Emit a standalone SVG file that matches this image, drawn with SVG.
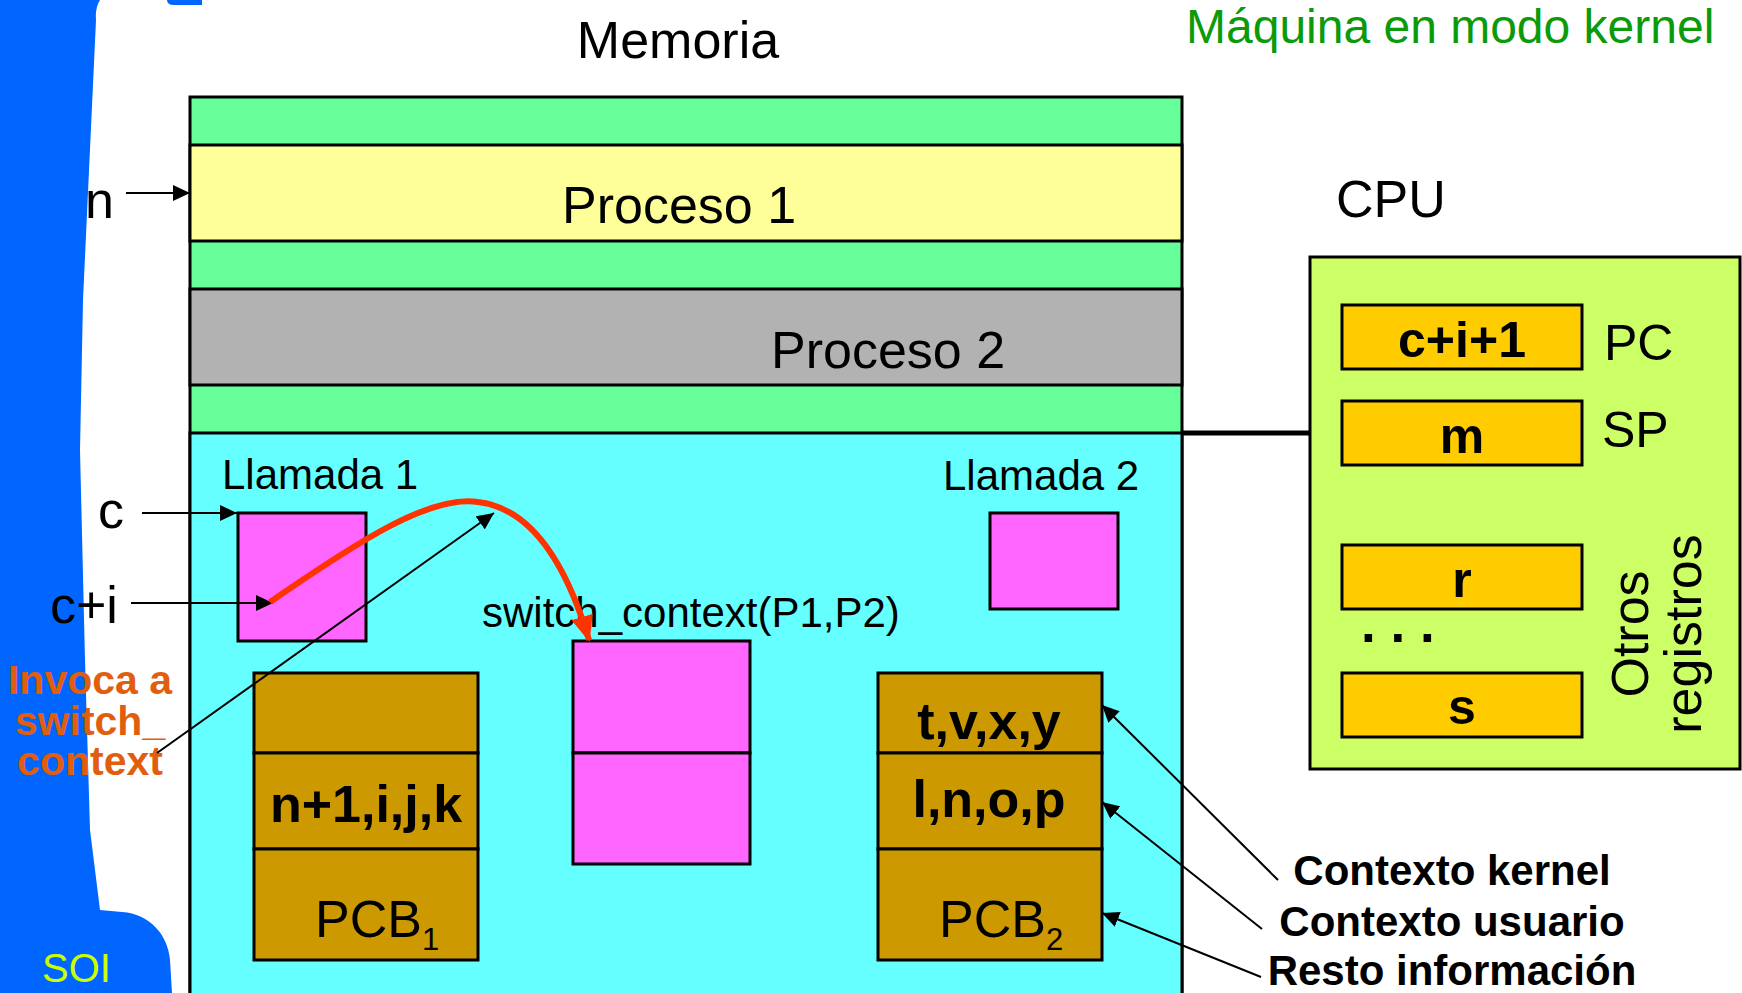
<svg xmlns="http://www.w3.org/2000/svg" width="1742" height="993" viewBox="0 0 1742 993">
  <style>
    text { font-family: "Liberation Sans", Arial, sans-serif; fill: #000; }
    .bx { stroke: #000; stroke-width: 3; }
    .green { fill: #66ff99; }
    .cyan { fill: #66ffff; }
    .mag { fill: #ff66ff; }
    .brown { fill: #cc9900; }
    .reg { fill: #ffcc00; }
    .lbl { font-size: 52px; }
    .small { font-size: 42px; }
    .bold { font-weight: bold; }
    .mid { text-anchor: middle; }
    .thin { stroke: #000; stroke-width: 2; fill: none; }
  </style>
  <defs>
    <marker id="ah" markerUnits="userSpaceOnUse" markerWidth="17" markerHeight="16" refX="17" refY="8" orient="auto">
      <path d="M0,0 L17,8 L0,16 Z" fill="#000"/>
    </marker>
    <marker id="ahRed" markerUnits="userSpaceOnUse" markerWidth="26" markerHeight="22" refX="24" refY="11" orient="auto">
      <path d="M0,0 L26,11 L0,22 Z" fill="#ff3300"/>
    </marker>
  </defs>

  <rect width="1742" height="993" fill="#fff"/>

  <!-- slide frame -->
  <g id="frame">
    <path d="M0,0 L100,0 Q95,8 96,20 L83,300 L80,450 L85,660 L90,830 L100,910 L122,912 C150,914 168,935 170,960 L172,993 L0,993 Z" fill="#0066ff"/>
    <path d="M167,0 L202,0 L202,5 L174,5 Q167,5 167,0 Z" fill="#0066ff"/>
    <text x="42" y="982" font-size="40" style="fill:#ccff00">SOI</text>
  </g>

  <g id="title">
    <text x="678" y="58" class="lbl mid">Memoria</text>
    <text x="1186" y="43" font-size="48" style="fill:#0a9a0a">Máquina en modo kernel</text>
    <text x="1336" y="217" class="lbl">CPU</text>
  </g>

  <!-- memory column -->
  <g id="memory">
    <rect x="190" y="97" width="992" height="896" class="bx green"/>
    <rect x="190" y="145" width="992" height="96" class="bx" fill="#ffff99"/>
    <rect x="190" y="289" width="992" height="96" class="bx" fill="#b2b2b2"/>
    <rect x="190" y="433" width="992" height="562" class="bx cyan"/>
    <text x="562" y="223" class="lbl">Proceso 1</text>
    <text x="771" y="368" class="lbl">Proceso 2</text>
  </g>

  <g id="llamada1">
    <text x="222" y="489" class="small">Llamada 1</text>
    <rect x="238" y="513" width="128" height="128" class="bx mag"/>
  </g>

  <g id="llamada2">
    <text x="943" y="490" class="small">Llamada 2</text>
    <rect x="990" y="513" width="128" height="96" class="bx mag"/>
  </g>

  <g id="switch_context">
    <text x="482" y="627" class="small">switch_context(P1,P2)</text>
    <rect x="573" y="641" width="177" height="112" class="bx mag"/>
    <rect x="573" y="753" width="177" height="111" class="bx mag"/>
  </g>

  <g id="pcb1">
    <rect x="254" y="673" width="224" height="80" class="bx brown"/>
    <rect x="254" y="753" width="224" height="96" class="bx brown"/>
    <rect x="254" y="849" width="224" height="111" class="bx brown"/>
    <text x="366" y="822" class="lbl bold mid">n+1,i,j,k</text>
    <text x="315" y="937" class="lbl">PCB<tspan font-size="31" dy="13">1</tspan></text>
  </g>

  <g id="pcb2">
    <rect x="878" y="673" width="224" height="80" class="bx brown"/>
    <rect x="878" y="753" width="224" height="96" class="bx brown"/>
    <rect x="878" y="849" width="224" height="111" class="bx brown"/>
    <text x="989" y="739" class="lbl bold mid">t,v,x,y</text>
    <text x="989" y="817" class="lbl bold mid">l,n,o,p</text>
    <text x="939" y="937" class="lbl">PCB<tspan font-size="31" dy="13">2</tspan></text>
  </g>

  <g id="cpu">
    <rect x="1310" y="257" width="430" height="512" class="bx" fill="#ccff66"/>
    <rect x="1342" y="305" width="240" height="64" class="bx reg"/>
    <rect x="1342" y="401" width="240" height="64" class="bx reg"/>
    <rect x="1342" y="545" width="240" height="64" class="bx reg"/>
    <rect x="1342" y="673" width="240" height="64" class="bx reg"/>
    <text x="1462" y="357" font-size="50" class="bold mid">c+i+1</text>
    <text x="1462" y="453" font-size="50" class="bold mid">m</text>
    <text x="1462" y="597" font-size="50" class="bold mid">r</text>
    <text x="1462" y="724" font-size="50" class="bold mid">s</text>
    <text x="1361" y="642" font-size="53" class="bold">. . .</text>
    <text x="1604" y="360" font-size="50">PC</text>
    <text x="1602" y="447" font-size="50">SP</text>
    <g transform="translate(1648,634) rotate(-90)">
      <text x="0" y="0" class="lbl mid">Otros</text>
      <text x="0" y="53" class="lbl mid">registros</text>
    </g>
  </g>

  <g id="labels">
    <text x="85" y="218" class="lbl">n</text>
    <text x="98" y="528" class="lbl">c</text>
    <text x="50" y="623" class="lbl">c+i</text>
    <g font-size="41" class="bold mid" style="fill:#e05e0e">
      <text x="90" y="694" style="fill:#e05e0e">Invoca a</text>
      <text x="90" y="735" style="fill:#e05e0e">switch_</text>
      <text x="90" y="775" style="fill:#e05e0e">context</text>
    </g>
    <text x="1452" y="885" font-size="42" class="bold mid">Contexto kernel</text>
    <text x="1452" y="936" font-size="42" class="bold mid">Contexto usuario</text>
    <text x="1452" y="985" font-size="42" class="bold mid">Resto información</text>
  </g>

  <g id="connectors">
    <line x1="1182" y1="433" x2="1310" y2="433" stroke="#000" stroke-width="5"/>
    <line x1="126" y1="193" x2="190" y2="193" class="thin" marker-end="url(#ah)"/>
    <line x1="142" y1="513" x2="237" y2="513" class="thin" marker-end="url(#ah)"/>
    <line x1="131" y1="603" x2="273" y2="603" class="thin" marker-end="url(#ah)"/>
    <line x1="157" y1="753" x2="494" y2="513" class="thin" marker-end="url(#ah)"/>
    <line x1="1278" y1="880" x2="1102" y2="705" class="thin" marker-end="url(#ah)"/>
    <line x1="1262" y1="929" x2="1102" y2="802" class="thin" marker-end="url(#ah)"/>
    <line x1="1261" y1="977" x2="1102" y2="913" class="thin" marker-end="url(#ah)"/>
    <path d="M270,602 C360,540 430,495 478,502 C530,508 565,560 589,640" fill="none" stroke="#ff3300" stroke-width="6" marker-end="url(#ahRed)"/>
  </g>
</svg>
